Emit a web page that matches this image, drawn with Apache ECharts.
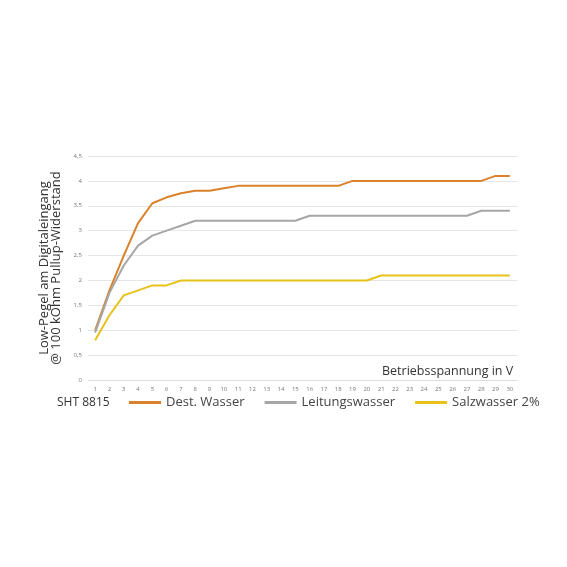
<!DOCTYPE html>
<html lang="de">
<head>
    <meta charset="UTF-8">
    <script src="https://cdn.jsdelivr.net/npm/echarts@6/dist/echarts.min.js"></script>
    <style>
        html, body { margin: 0; background: #fff; }
        #main { width: 567px; height: 567px; }
    </style>
</head>
<body>
    <div id="main"></div>
</body>
<script>
    var volts = [];
    for (var v = 1; v <= 30; v++) volts.push(String(v));
    var destWasser = [1, 1.8, 2.5, 3.15, 3.55, 3.67, 3.75, 3.8, 3.8, 3.85, 3.9, 3.9, 3.9, 3.9, 3.9, 3.9, 3.9, 3.9, 4, 4, 4, 4, 4, 4, 4, 4, 4, 4, 4.1, 4.1];
    var leitungswasser = [0.95, 1.75, 2.3, 2.7, 2.9, 3, 3.1, 3.2, 3.2, 3.2, 3.2, 3.2, 3.2, 3.2, 3.2, 3.3, 3.3, 3.3, 3.3, 3.3, 3.3, 3.3, 3.3, 3.3, 3.3, 3.3, 3.3, 3.4, 3.4, 3.4];
    var salzwasser = [0.8, 1.3, 1.7, 1.8, 1.9, 1.9, 2, 2, 2, 2, 2, 2, 2, 2, 2, 2, 2, 2, 2, 2, 2.1, 2.1, 2.1, 2.1, 2.1, 2.1, 2.1, 2.1, 2.1, 2.1];

    var font = 'Open Sans';
    function line(name, data, color) {
        return { name: name, type: 'line', data: data, symbol: 'none',
                 lineStyle: { color: color, width: 2 }, itemStyle: { color: color } };
    }

    var myChart = echarts.init(document.getElementById('main'));
    var option = {
        animation: false,
        textStyle: { fontFamily: font },
        grid: { left: 88, right: 50, top: 156, bottom: 187 },
        legend: {
            bottom: 153, left: 124, itemWidth: 32, itemHeight: 3, itemGap: 20,
            icon: 'rect',
            textStyle: { fontSize: 13, color: '#444', fontFamily: font }
        },
        graphic: [{ type: 'text', left: 57, top: 397,
                    style: { text: 'SHT 8815', fontSize: 12, fill: '#333', fontFamily: font } }],
        xAxis: {
            type: 'category', data: volts, boundaryGap: true,
            name: 'Betriebsspannung in V', nameLocation: 'end', nameGap: -135,
            nameTextStyle: { fontSize: 12.5, color: '#333', verticalAlign: 'bottom', padding: [0, 0, 2, 0] },
            axisLine: { lineStyle: { color: '#ddd' } }, axisTick: { show: false },
            axisLabel: { fontSize: 6, color: '#777', margin: 6 }
        },
        yAxis: {
            type: 'value', min: 0, max: 4.5, interval: 0.5,
            name: 'Low-Pegel am Digitaleingang\n@ 100 kOhm Pullup-Widerstand',
            nameLocation: 'middle', nameGap: 22, nameRotate: 90,
            nameTextStyle: { fontSize: 13, color: '#333', lineHeight: 12 },
            axisLabel: { fontSize: 6, color: '#777', margin: 6,
                         formatter: function (v) { return String(v).replace('.', ','); } },
            splitLine: { lineStyle: { color: '#e6e6e6' } }
        },
        series: [
            line('Dest. Wasser', destWasser, '#d9822b'),
            line('Leitungswasser', leitungswasser, '#a6a6a6'),
            line('Salzwasser 2%', salzwasser, '#e8c21a')
        ]
    };
    myChart.setOption(option);
</script>
</html>
